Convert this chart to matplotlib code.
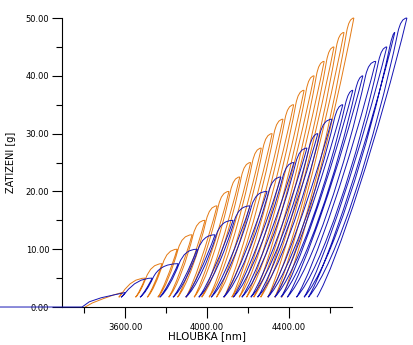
import matplotlib
matplotlib.use('Agg')
import matplotlib.pyplot as plt
from matplotlib.path import Path
from matplotlib.patches import PathPatch
from matplotlib.ticker import FixedLocator, FormatStrFormatter

# peak load of each cycle [g]; every unload goes back down to unload_min
peak_load = [2.5, 5.0, 7.5, 10.0, 12.5, 15.0, 17.5, 20.0, 22.5, 25.0,
             27.5, 30.0, 32.5, 35.0, 37.5, 40.0, 42.5, 45.0, 47.5, 50.0]
unload_min = 1.7

# blue measurement: depth at peak and at the end of each unload [nm]
blue_peak = [3600, 3732, 3859, 3951, 4039, 4127, 4210, 4293, 4361, 4424,
             4488, 4541, 4610, 4663, 4712, 4761, 4824, 4878, 4917, 4976]
blue_bottom = [3580, 3673, 3769, 3834, 3896, 3960, 4020, 4081, 4128, 4170,
               4214, 4247, 4297, 4331, 4361, 4392, 4437, 4474, 4495, 4537]
blue_first_depth = [2950, 3390, 3425, 3483, 3546, 3600]
blue_first_load = [0.0, 0.0, 0.9, 1.6, 2.1, 2.5]

# orange measurement
orange_peak = [3585, 3698, 3780, 3854, 3927, 3990, 4049, 4107, 4160, 4213,
               4265, 4318, 4371, 4423, 4474, 4523, 4572, 4620, 4669, 4717]
orange_bottom = [3569, 3651, 3708, 3760, 3813, 3856, 3897, 3937, 3974, 4010,
                 4046, 4083, 4121, 4157, 4193, 4228, 4262, 4297, 4331, 4366]
orange_first_depth = [3405, 3440, 3490, 3545, 3585]
orange_first_load = [0.0, 0.7, 1.4, 2.1, 2.5]

ORANGE = '#E47A14'
BLUE = '#1414B4'


def cycles(peaks, bottoms, loads, pmin):
    """unload / reload loops as one bezier path"""
    verts = [(peaks[0], loads[0])]
    codes = [Path.MOVETO]
    for i in range(len(loads)):
        h, p, b = peaks[i], loads[i], bottoms[i]
        r, dp = h - b, p - pmin
        # unloading branch
        verts += [(h - 0.3 * r, pmin + 0.6 * dp),
                  (h - 0.78 * r, pmin + 0.12 * dp), (b, pmin)]
        codes += [Path.CURVE4] * 3
        if i + 1 == len(loads):
            break
        hn, pn = peaks[i + 1], loads[i + 1]
        d = 0.03 * r + 2
        # elastic reload back to the previous peak
        verts += [(b + 0.32 * r, pmin + 0.12 * dp),
                  (b + 0.78 * r, pmin + 0.6 * dp), (h + d, p)]
        codes += [Path.CURVE4] * 3
        # then on to the new peak (hold -> flat top)
        run = (0.22 * r + d) / (0.4 * dp)
        xc = min(h + d + (pn - p) * run, hn - 0.1 * (hn - h))
        verts += [(xc, pn), (hn, pn)]
        codes += [Path.CURVE3] * 2
    return Path(verts, codes)


fig = plt.figure(figsize=(4.14, 3.45), dpi=100)
ax = fig.add_axes([0.1498, 0.1101, 0.7005, 0.8377])

ax.plot(orange_first_depth, orange_first_load, color=ORANGE, lw=0.7,
        clip_on=False)
ax.add_patch(PathPatch(cycles(orange_peak, orange_bottom, peak_load,
                              unload_min),
                       fill=False, edgecolor=ORANGE, lw=0.7, clip_on=False))
ax.plot(blue_first_depth, blue_first_load, color=BLUE, lw=0.7,
        clip_on=False, zorder=3)
ax.add_patch(PathPatch(cycles(blue_peak, blue_bottom, peak_load, unload_min),
                       fill=False, edgecolor=BLUE, lw=0.7, clip_on=False,
                       zorder=3))

ax.set_xlim(3292, 4708)
ax.set_ylim(0, 50)
for s in ('top', 'right'):
    ax.spines[s].set_visible(False)
for s in ('left', 'bottom'):
    ax.spines[s].set_linewidth(0.8)

ax.xaxis.set_major_locator(FixedLocator([3600, 4000, 4400]))
ax.xaxis.set_minor_locator(FixedLocator([3400, 3800, 4200, 4600]))
ax.yaxis.set_major_locator(FixedLocator([0, 10, 20, 30, 40, 50]))
ax.yaxis.set_minor_locator(FixedLocator([5, 15, 25, 35, 45]))
ax.xaxis.set_major_formatter(FormatStrFormatter('%.2f'))
ax.yaxis.set_major_formatter(FormatStrFormatter('%.2f'))
ax.tick_params(axis='x', which='major', length=8, width=0.8, pad=3.5,
               labelsize=6)
ax.tick_params(axis='y', which='major', length=7, width=0.8, pad=2.2,
               labelsize=6)
ax.tick_params(which='minor', length=4, width=0.8)

ax.set_xlabel('HLOUBKA [nm]', fontsize=7.5)
ax.set_ylabel('ZATIZENI [g]', fontsize=7)
ax.xaxis.set_label_coords(0.5, -0.085)
ax.yaxis.set_label_coords(-0.16, 0.5)

fig.savefig('out.png', dpi=100)
